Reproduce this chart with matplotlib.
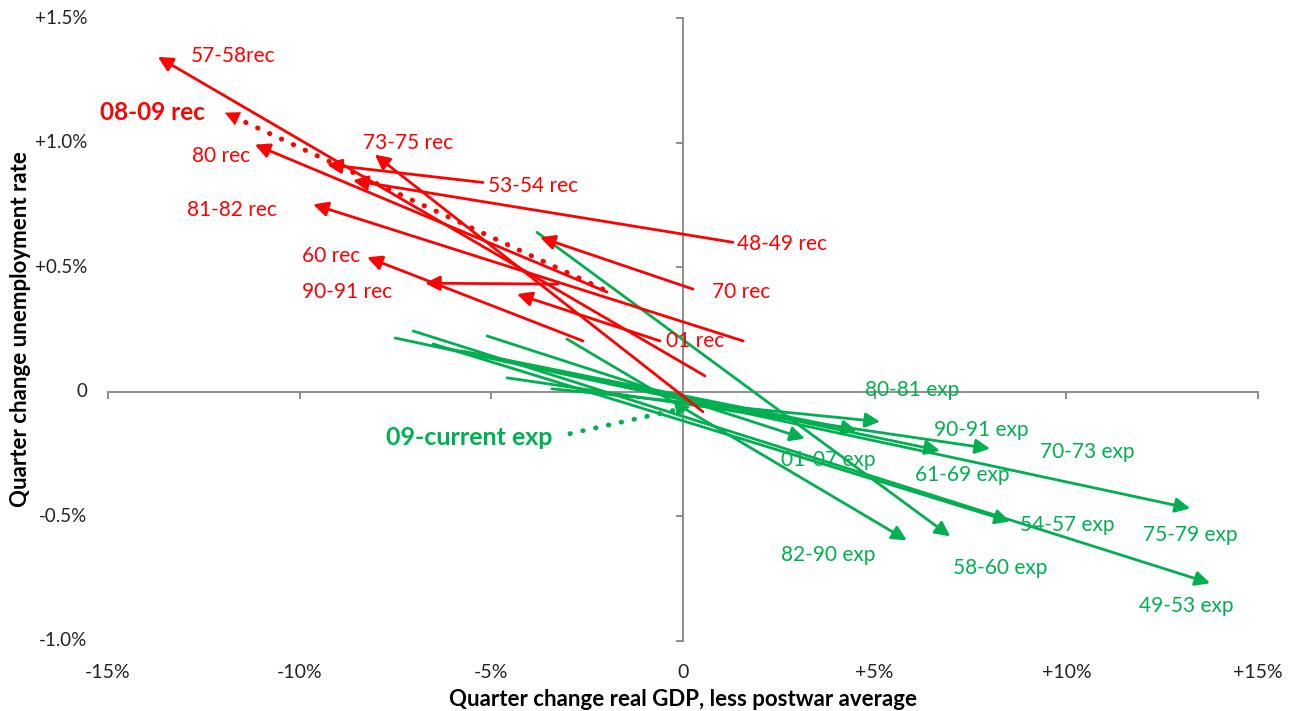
import matplotlib
matplotlib.use('Agg')
import matplotlib.pyplot as plt
import numpy as np

plt.rcParams['font.family'] = ['Lato', 'DejaVu Sans']

RED = '#FF0000'
GREEN = '#00B050'

# recessions: quarterly change, start -> end (x = real GDP %, y = unemployment %)
rec_names = ['48-49 rec', '53-54 rec', '57-58rec', '60 rec', '70 rec', '73-75 rec',
             '80 rec', '81-82 rec', '90-91 rec', '01 rec']
rec_x0 = [1.30, -5.22, 0.57, -2.61, 0.26, 0.52, -1.98, 1.57, -3.26, -0.60]
rec_y0 = [0.600, 0.840, 0.064, 0.204, 0.412, -0.080, 0.400, 0.204, 0.432, 0.204]
rec_x1 = [-8.61, -9.29, -13.70, -8.24, -3.73, -8.04, -11.17, -9.65, -6.73, -4.33]
rec_y1 = [0.848, 0.912, 1.344, 0.540, 0.620, 0.952, 0.992, 0.752, 0.436, 0.392]

# expansions
exp_names = ['49-53 exp', '54-57 exp', '58-60 exp', '61-69 exp', '70-73 exp',
             '75-79 exp', '80-81 exp', '82-90 exp', '90-91 exp', '01-07 exp']
exp_x0 = [-7.04, -6.52, -3.81, -6.34, -5.77, -7.51, -3.42, -3.03, -4.59, -5.11]
exp_y0 = [0.244, 0.192, 0.640, 0.180, 0.164, 0.216, 0.012, 0.212, 0.056, 0.224]
exp_x1 = [13.75, 8.53, 6.97, 6.70, 4.54, 13.23, 5.14, 5.84, 8.01, 3.18]
exp_y1 = [-0.768, -0.520, -0.580, -0.236, -0.156, -0.468, -0.120, -0.596, -0.228, -0.188]

# current cycle (dotted)
cur_rec = ('08-09 rec', -2.09, 0.412, -11.95, 1.120)
cur_exp = ('09-current exp', -2.95, -0.168, 0.18, -0.060)

xticks = [-15, -10, -5, 0, 5, 10, 15]
xtick_labels = ['-15%', '-10%', '-5%', '0', '+5%', '+10%', '+15%']
yticks = [-1.0, -0.5, 0, 0.5, 1.0, 1.5]
ytick_labels = ['-1.0%', '-0.5%', '0', '+0.5%', '+1.0%', '+1.5%']

# label anchor points (left edge, vertical centre)
rec_label_pos = {'48-49 rec': (1.40, 0.592), '53-54 rec': (-5.08, 0.824), '57-58rec': (-12.85, 1.348),
                 '60 rec': (-9.95, 0.544), '70 rec': (0.75, 0.400), '73-75 rec': (-8.35, 1.000),
                 '80 rec': (-12.80, 0.948), '81-82 rec': (-12.95, 0.728), '90-91 rec': (-9.95, 0.400),
                 '01 rec': (-0.45, 0.204)}
exp_label_pos = {'49-53 exp': (11.90, -0.860), '54-57 exp': (8.80, -0.536), '58-60 exp': (7.05, -0.708),
                 '61-69 exp': (6.05, -0.332), '70-73 exp': (9.30, -0.240), '75-79 exp': (12.00, -0.576),
                 '80-81 exp': (4.75, 0.008), '82-90 exp': (2.55, -0.656), '90-91 exp': (6.55, -0.152),
                 '01-07 exp': (2.55, -0.272)}

fig = plt.figure(figsize=(12.95, 7.11), dpi=100)
ax = fig.add_axes([108 / 1295, 70 / 711, 1150 / 1295, 623 / 711])
ax.set_xlim(-15, 15)
ax.set_ylim(-1.0, 1.5)

for s in ['top', 'right']:
    ax.spines[s].set_visible(False)
ax.spines['left'].set_position(('data', 0))
ax.spines['bottom'].set_position(('data', 0))
for s in ['left', 'bottom']:
    ax.spines[s].set_color('#868686')
    ax.spines[s].set_linewidth(1.3)
ax.set_xticks(xticks)
ax.set_yticks(yticks)
ax.tick_params(axis='both', direction='out', length=5, width=1.3, color='#868686',
               labelleft=False, labelbottom=False)

# tick labels at the outside edges, like Excel's "low" label position
for xv, lab in zip(xticks, xtick_labels):
    ax.text(xv, -0.051, lab, transform=ax.get_xaxis_transform(), ha='center', va='center',
            fontsize=14, color='#222222')
for yv, lab in zip(yticks, ytick_labels):
    ax.text(-0.018, yv, lab, transform=ax.get_yaxis_transform(), ha='right', va='center',
            fontsize=13.5, color='#222222')

ax.text(0.5, -0.094, 'Quarter change real GDP, less postwar average', transform=ax.transAxes,
        ha='center', va='center', fontsize=16, fontweight='bold')
ax.text(-0.076, 0.5, 'Quarter change unemployment rate', transform=ax.transAxes, rotation=90,
        ha='center', va='center', fontsize=16, fontweight='bold')


def arrow(x0, y0, x1, y1, color):
    ax.annotate('', xy=(x1, y1), xytext=(x0, y0),
                arrowprops=dict(arrowstyle='-|>', color=color, lw=2.0, mutation_scale=22,
                                shrinkA=0, shrinkB=0))


def dotted_arrow(x0, y0, x1, y1, color):
    ax.plot([x0, x1], [y0, y1], color=color, lw=3.5, linestyle=(0, (0.1, 2.6)),
            dash_capstyle='round', solid_capstyle='round', zorder=4)
    xs = x1 - 0.03 * (x1 - x0)
    ys = y1 - 0.03 * (y1 - y0)
    ax.annotate('', xy=(x1, y1), xytext=(xs, ys), zorder=4,
                arrowprops=dict(arrowstyle='-|>', color=color, lw=0.5, mutation_scale=24,
                                shrinkA=0, shrinkB=0))


for i, name in enumerate(exp_names):
    arrow(exp_x0[i], exp_y0[i], exp_x1[i], exp_y1[i], GREEN)
    lx, ly = exp_label_pos[name]
    ax.text(lx, ly, name, color=GREEN, fontsize=15, ha='left', va='center')

for i, name in enumerate(rec_names):
    arrow(rec_x0[i], rec_y0[i], rec_x1[i], rec_y1[i], RED)
    lx, ly = rec_label_pos[name]
    ax.text(lx, ly, name, color=RED, fontsize=15, ha='left', va='center')

dotted_arrow(*cur_rec[1:], RED)
ax.text(-15.2, 1.12, cur_rec[0], color=RED, fontsize=17.5, fontweight='bold', ha='left', va='center')
dotted_arrow(*cur_exp[1:], GREEN)
ax.text(-7.75, -0.184, cur_exp[0], color=GREEN, fontsize=18, fontweight='bold', ha='left', va='center')

fig.savefig('out.png', dpi=100, facecolor='white')
